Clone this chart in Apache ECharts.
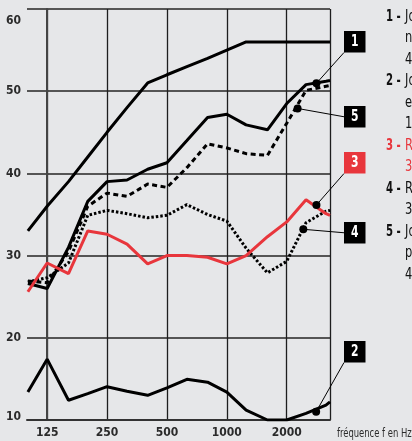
<!DOCTYPE html>
<html><head><meta charset="utf-8">
<script src="https://cdn.jsdelivr.net/npm/echarts@6/dist/echarts.min.js"></script>
<style>html,body{margin:0;padding:0;background:#e6e7e9;overflow:hidden}#c{width:412px;height:441px}</style>
</head><body><div id="c"></div>
<script>
// third-octave band frequencies (last = right edge of plot)
const freqs = [100,125,160,200,250,315,400,500,630,800,1000,1250,1600,2000,2500,3150,3300];
const tickFreqs = [125,250,500,1000,2000];
const curveTop = [33,36,39,42,45,48,51,52,53,54,55,56,56,56,56,56,56];
const curve1 = [26.6,26.0,31.0,36.6,39.0,39.2,40.5,41.3,44.0,46.8,47.2,45.9,45.3,48.5,50.8,51.2,51.3];
const curve5 = [26.9,26.7,30.5,36.0,37.6,37.2,38.7,38.3,40.7,43.6,43.1,42.4,42.2,46.1,50.1,50.6,50.7];
const curve4 = [26.8,27.3,29.1,34.9,35.5,35.1,34.6,34.9,36.2,35.0,34.2,30.9,27.9,29.3,34.0,35.4,35.5];
const curve3 = [25.6,29.1,27.8,33.0,32.6,31.4,29.0,30.0,30.0,29.8,29.0,30.0,32.3,34.1,36.8,35.1,34.9];
const curve2 = [13.4,17.4,12.4,13.2,14.05,13.5,13.0,13.9,14.95,14.6,13.4,11.2,10.0,10.0,10.8,11.8,12.2];
// callout markers: label, frequency, level
const calloutLabels = ['1','5','3','4','2'];
const calloutFreqs = [2821,2268,2821,2423,2811];
const calloutLevels = [50.96,47.9,36.16,33.2,11.0];
// legend lines on the right
const legendNums = ['1 -','','','2 -','','','3 -','','4 -','','5 -','',''];
const legendTexts = ['Jour, fenêtres','non fermées','48 dB(A)','Jour,','en façade','18 dB(A)','Référence','30 dB(A)','Référence','35 dB(A)','Jour,','portes fermées','45 dB(A)'];
const legendRed = [false,false,false,false,false,false,true,true,false,false,false,false,false];

const RED = '#e8363c';
const FONT = '"DejaVu Sans Condensed","Liberation Sans Narrow",sans-serif';
const oct = f => Math.log2(f / 125);
const mk = arr => freqs.map((f, i) => [oct(f), arr[i]]);
const xMin = oct(99);
const xMax = oct(freqs[freqs.length - 1]);

const chart = echarts.init(document.getElementById('c'), null, {renderer: 'canvas'});
const lineBase = {type: 'line', symbol: 'none', silent: true, z: 3};
const lab = {fontFamily: FONT, fontSize: 12, fontWeight: 'bold', color: '#2b2b2b'};
const option = {
  backgroundColor: '#e6e7e9',
  animation: false,
  grid: {left: 27, right: 82, top: 9, bottom: 21},
  xAxis: {
    type: 'value', min: xMin, max: xMax,
    axisLine: {show: true, onZero: false, lineStyle: {color: '#333', width: 2}},
    axisTick: {show: false, customValues: tickFreqs.map(oct).concat([xMax])},
    axisLabel: Object.assign({customValues: tickFreqs.map(oct), formatter: v => String(Math.round(125 * Math.pow(2, v))), margin: 7}, lab),
    splitLine: {show: true, lineStyle: {color: '#1e1e1e', width: 1.3}}
  },
  yAxis: {
    type: 'value', min: 10, max: 60, interval: 10,
    axisLine: {show: true, lineStyle: {color: '#444', width: 2}},
    axisTick: {show: false},
    axisLabel: Object.assign({margin: 6,
      formatter: v => v === 60 ? '{t|60}' : (v === 10 ? '{b|10}' : '{n|' + v + '}'),
      rich: {t: Object.assign({padding: [24, 0, 0, 0]}, lab),
             b: Object.assign({padding: [0, 0, 6, 0]}, lab),
             n: Object.assign({}, lab)}}, lab),
    splitLine: {show: true, lineStyle: {color: '#555', width: 2}}
  },
  series: [
    Object.assign({}, lineBase, {data: mk(curveTop), lineStyle: {color: '#000', width: 3}}),
    Object.assign({}, lineBase, {data: mk(curve1), lineStyle: {color: '#000', width: 3}}),
    Object.assign({}, lineBase, {data: mk(curve5), lineStyle: {color: '#000', width: 3, type: [5, 3.5]}}),
    Object.assign({}, lineBase, {data: mk(curve4), lineStyle: {color: '#000', width: 3, type: [2.5, 2], cap: 'butt'}}),
    Object.assign({}, lineBase, {data: mk(curve3), lineStyle: {color: RED, width: 3}}),
    Object.assign({}, lineBase, {data: mk(curve2), lineStyle: {color: '#000', width: 3}}),
    {type: 'scatter', symbol: 'circle', symbolSize: 8, itemStyle: {color: '#000', opacity: 1}, z: 6, silent: true,
     data: calloutFreqs.map((f, i) => [oct(f), calloutLevels[i]])}
  ]
};
chart.setOption(option);

// callout boxes (annotation layout)
const boxTops = {'1': 31, '5': 106, '3': 152, '4': 222, '2': 341};
const boxAnchor = {'1': 'bl', '5': 'ml', '3': 'bl', '4': 'ml', '2': 'bl'};
const BX = 344, BS = 21.5;
const graphics = [];
calloutLabels.forEach((l, i) => {
  const p = chart.convertToPixel({gridIndex: 0}, [oct(calloutFreqs[i]), calloutLevels[i]]);
  const top = boxTops[l];
  const ay = boxAnchor[l] === 'bl' ? top + BS : top + BS / 2;
  graphics.push({type: 'line', shape: {x1: p[0], y1: p[1], x2: BX, y2: ay}, style: {stroke: '#000', lineWidth: 1}, z: 5});
  graphics.push({type: 'rect', shape: {x: BX, y: top, width: BS, height: BS}, style: {fill: l === '3' ? RED : '#000'}, z: 7});
  graphics.push({type: 'text', x: BX + BS / 2, y: top + BS / 2 + 0.5, z: 8, scaleX: 0.8,
    style: {text: l, fill: '#fff', font: 'bold 15px ' + FONT, align: 'center', verticalAlign: 'middle'}});
});
legendTexts.forEach((t, i) => {
  const y = 17 + 21.5 * i;
  const col = legendRed[i] ? RED : '#111';
  if (legendNums[i]) graphics.push({type: 'text', x: 386, y: y, z: 8, scaleX: 0.75,
    style: {text: legendNums[i], fill: col, font: 'bold 15px ' + FONT, verticalAlign: 'middle'}});
  graphics.push({type: 'text', x: 405, y: y, z: 8, scaleX: 0.85,
    style: {text: t, fill: col, font: '15px ' + FONT, verticalAlign: 'middle'}});
});
graphics.push({type: 'text', x: 337, y: 434, z: 8, scaleX: 0.78,
  style: {text: 'fréquence f en Hz', fill: '#2b2b2b', font: '12px ' + FONT, verticalAlign: 'middle'}});
chart.setOption({graphic: graphics});
</script></body></html>
